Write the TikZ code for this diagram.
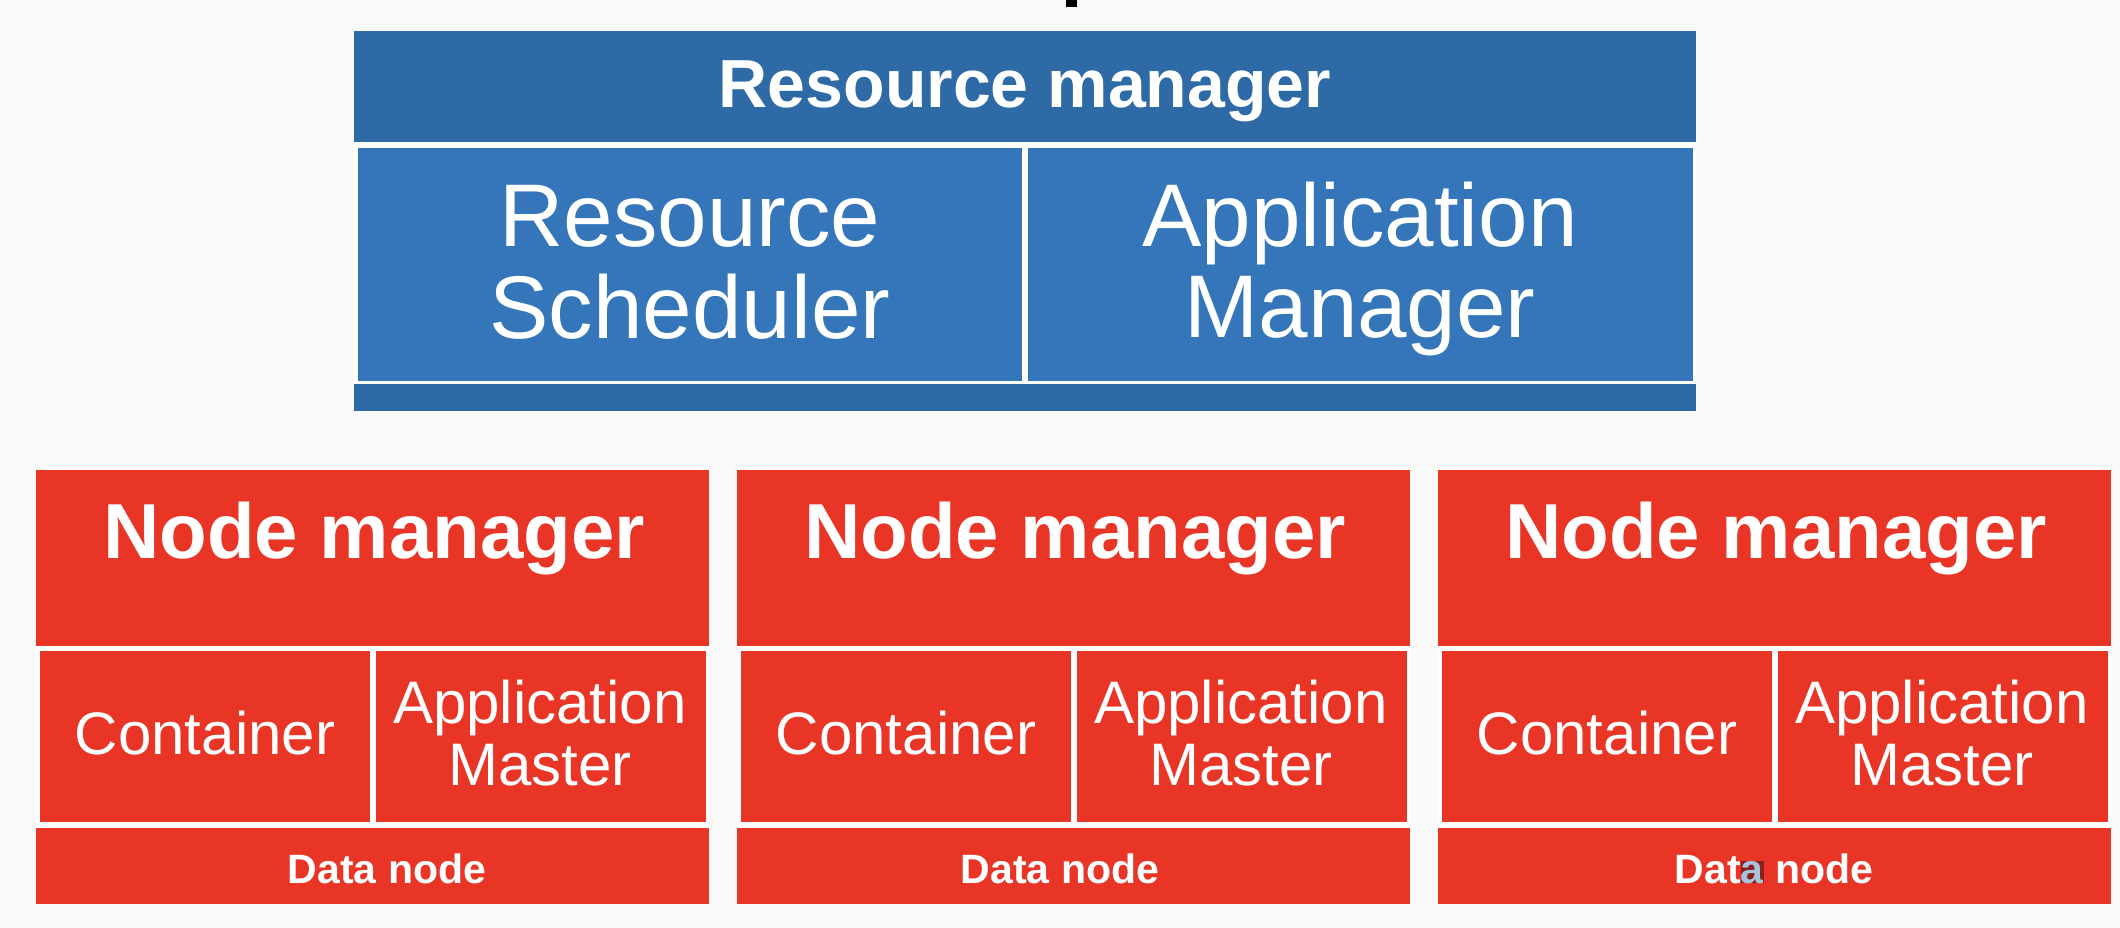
\documentclass[tikz,border=0pt]{standalone}
\usepackage{fontspec}
\setmainfont{Liberation Sans}
\definecolor{bgc}{HTML}{F9F9F9}
\definecolor{bluedark}{RGB}{46,106,166}
\definecolor{bluecell}{RGB}{52,118,185}
\definecolor{redc}{RGB}{233,53,38}
\definecolor{hlbg}{RGB}{140,30,30}
\definecolor{hlfg}{RGB}{168,196,219}
\newcommand\mytwoline[2]{\begin{tabular}[t]{@{}c@{}}#1\\#2\end{tabular}}
\tikzset{
  lbl/.style={anchor=base, inner sep=0pt, outer sep=0pt, text=white},
  bigtitle/.style={lbl, font=\fontsize{68}{80}\selectfont\bfseries},
  bigcell/.style={lbl, font=\fontsize{89}{91}\selectfont},
  nmtitle/.style={lbl, font=\fontsize{78}{90}\selectfont\bfseries},
  smallcell/.style={lbl, font=\fontsize{60}{62}\selectfont},
  dntitle/.style={lbl, font=\fontsize{41}{48}\selectfont\bfseries},
}
\begin{document}
\begin{tikzpicture}[x=1pt,y=-1pt]
\fill[bgc] (0,0) rectangle (2120,928);
\useasboundingbox (0,0) rectangle (2120,928);
% fragment of a cut-off title
\fill[black] (1066,0) rectangle (1077,7);
% resource manager block
\fill[white] (354,142) rectangle (1696,384);
\fill[bluedark] (354,31) rectangle (1696,142);
\fill[bluecell] (358,148) rectangle (1022,381);
\fill[bluecell] (1028,148) rectangle (1693,381);
\fill[bluedark] (354,384) rectangle (1696,411);
\node[bigtitle] (rm) at (1025,108) {Resource manager};
\node[bigcell] (rs) at (690,247) {\mytwoline{Resource}{Scheduler}};
\node[bigcell] (am) at (1360,247) {\mytwoline{Application}{Manager}};
% node manager columns
\foreach \cx/\dx/\i in {36/351/1, 737/323/2, 1438/336/3} {
  \fill[white] (\cx,646) rectangle ({\cx+673},828);
  \fill[redc] (\cx,470) rectangle ({\cx+673},646);
  \fill[redc] ({\cx+4},651) rectangle ({\cx+334},822);
  \fill[redc] ({\cx+340},651) rectangle ({\cx+670},822);
  \fill[redc] (\cx,828) rectangle ({\cx+673},904);
  \node[nmtitle] (nm\i) at ({\cx+338},558) {Node manager};
  \node[smallcell] (ct\i) at ({\cx+169},754) {Container};
  \node[smallcell] (ams\i) at ({\cx+504},723) {\mytwoline{Application}{Master}};
}
\node[dntitle] (dn1) at (387,883) {Data node};
\node[dntitle] (dn2) at (1060,883) {Data node};
\node[dntitle] (dn3) at (1774,883) {Dat{\fboxsep=0pt\colorbox{hlbg}{\textcolor{hlfg}{a}}} node};
\end{tikzpicture}
\end{document}
